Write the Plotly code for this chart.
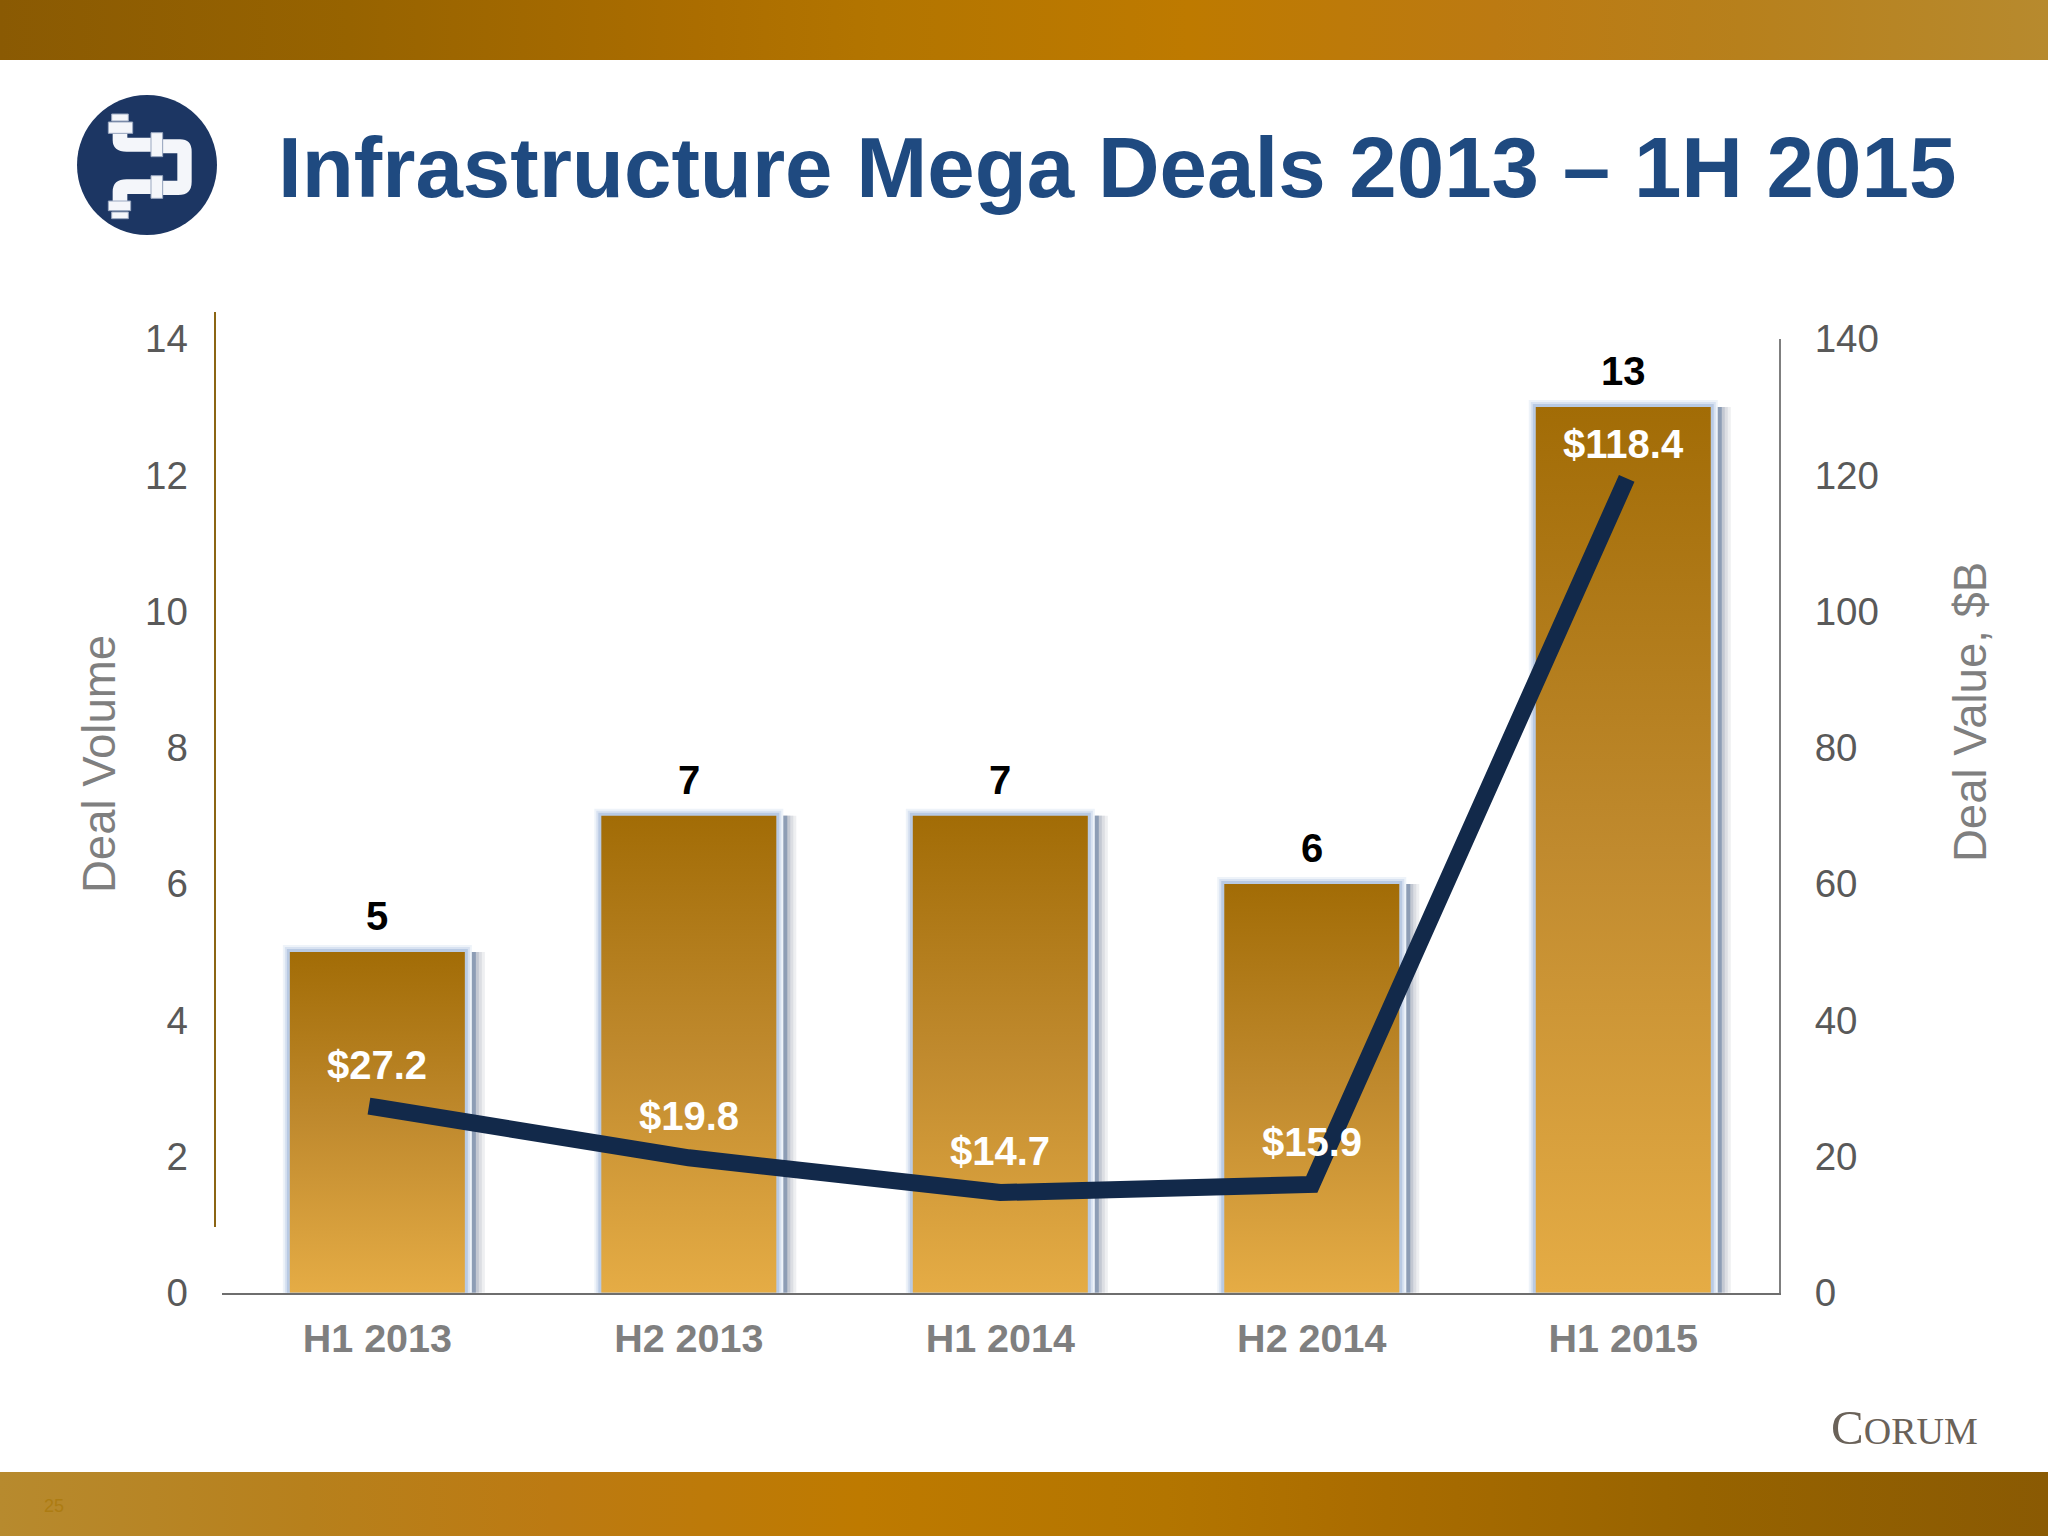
import plotly.graph_objects as go

categories = ["H1 2013", "H2 2013", "H1 2014", "H2 2014", "H1 2015"]
deal_volume = [5, 7, 7, 6, 13]
deal_value = [27.2, 19.8, 14.7, 15.9, 118.4]
value_labels = ["$27.2", "$19.8", "$14.7", "$15.9", "$118.4"]
left_ticks = [0, 2, 4, 6, 8, 10, 12, 14]
right_ticks = [0, 20, 40, 60, 80, 100, 120, 140]

W, H = 2048, 1536
X0, X1, YT, YB = 221.6, 1779.0, 339.0, 1292.7
UNIT = (X1 - X0) / 5
BAR = 175 / UNIT
px = 1 / UNIT
xs = list(range(len(categories)))
FONT = "Liberation Sans"

fig = go.Figure()

# ---- page bands on a full-page hidden subplot
def band(y0, y1, stops):
    fig.add_trace(go.Scatter(x=[0, W, W, 0, 0], y=[y0, y0, y1, y1, y0], xaxis="x3", yaxis="y3",
                             mode="none", fill="toself", hoverinfo="skip", showlegend=False,
                             fillgradient=dict(type="horizontal", colorscale=stops)))

top_stops = [[0, "#8a5a03"], [0.17, "#976300"], [0.34, "#ab6d00"], [0.43, "#b37500"], [0.58, "#be7a00"],
             [0.73, "#bc7a12"], [0.85, "#b7801c"], [1, "#b78a2e"]]
band(0, 60, top_stops)
band(1472, 1536, [[round(1 - s, 3), c] for s, c in reversed(top_stops)])

# ---- soft edges of the bars: fading layers, then the gradient fill on top
for extra, colour in [(18, "#eeeff1"), (15, "#dcdee3"), (12, "#c3c8d2"), (9, "#8d9db5")]:
    fig.add_trace(go.Bar(x=xs, y=deal_volume, width=BAR + extra * px, offset=-BAR / 2 + 2 * px,
                         marker=dict(color=colour, line_width=0), hoverinfo="skip", showlegend=False))
for lw, colour in [(14, "#eef3f9"), (10, "#d8e2f1"), (6, "#b9cae3")]:
    fig.add_trace(go.Bar(x=xs, y=deal_volume, width=BAR, offset=-BAR / 2,
                         marker=dict(color="rgba(0,0,0,0)", line=dict(color=colour, width=lw)),
                         hoverinfo="skip", showlegend=False))
for i, v in zip(xs, deal_volume):
    fig.add_trace(go.Scatter(x=[i - BAR / 2, i + BAR / 2, i + BAR / 2, i - BAR / 2, i - BAR / 2],
                             y=[0, 0, v, v, 0], mode="none", fill="toself",
                             fillgradient=dict(type="vertical",
                                               colorscale=[[0, "#e5ac45"], [0.5, "#c08a2e"], [1, "#a26c06"]]),
                             hoverinfo="skip", showlegend=False))

# ---- line
fig.add_trace(go.Scatter(x=xs, y=deal_value, yaxis="y2", mode="lines",
                         line=dict(color="#12294a", width=17), hoverinfo="skip", showlegend=False))

ann = []
for i, v in zip(xs, deal_volume):
    ann.append(dict(x=i, y=v, xref="x", yref="y", text=f"<b>{v}</b>", showarrow=False, yanchor="bottom",
                    yshift=12, font=dict(family=FONT, size=40, color="#000000")))
for i, v, t in zip(xs, deal_value, value_labels):
    ann.append(dict(x=i, y=v, xref="x", yref="y2", text=f"<b>{t}</b>", showarrow=False, yanchor="middle",
                    yshift=42, font=dict(family=FONT, size=40, color="#ffffff")))


def page_text(x, y, text, size, color, xanchor="center", angle=0, family=FONT):
    ann.append(dict(x=x, y=y, xref="x3", yref="y3", text=text, showarrow=False, xanchor=xanchor,
                    yanchor="middle", textangle=angle, font=dict(family=family, size=size, color=color)))


page_text(276, 167, "<b>Infrastructure Mega Deals 2013 – 1H 2015</b>", 85.3, "#1f4a80", "left")
page_text(99, 764, "Deal Volume", 45.5, "#7f7f7f", angle=-90)
page_text(1970, 712, "Deal Value, $B", 45.5, "#7f7f7f", angle=-90)
page_text(1829, 1427, 'C<span style="font-size:38px">ORUM</span>', 49, "#6a6259", "left", family="Liberation Serif")
page_text(54, 1506, "25", 18, "#ad7c12")

# ---- logo and left rule, in page pixels
def logo(X, Y):
    return 90 + X / 3, 110 + Y / 3


def logo_path(points):
    out = []
    for cmd, *vals in points:
        coords = []
        for a, b in zip(vals[0::2], vals[1::2]):
            x, y = logo(a, b)
            coords.append(f"{x:.2f},{y:.2f}")
        out.append(cmd + " ".join(coords))
    return " ".join(out) + " Z"


shapes = [dict(type="line", xref="x3", yref="y3", x0=215, x1=215, y0=312, y1=1227,
               line=dict(color="#8b6514", width=2)),
          dict(type="circle", xref="x3", yref="y3", x0=77, x1=217, y0=95, y1=235,
               fillcolor="#1c3663", line_width=0)]
pipes = [
    [("M", 68, 70), ("L", 112, 70), ("L", 112, 83), ("L", 185, 83), ("L", 185, 125), ("L", 110, 125),
     ("Q", 68, 125, 68, 90)],
    [("M", 218, 88), ("L", 270, 88), ("Q", 305, 88, 305, 125), ("L", 305, 215), ("Q", 305, 255, 265, 255),
     ("L", 218, 255), ("L", 218, 212), ("L", 262, 212), ("L", 262, 130), ("L", 218, 130)],
    [("M", 185, 208), ("L", 110, 208), ("Q", 68, 208, 68, 245), ("L", 68, 275), ("L", 112, 275),
     ("L", 112, 252), ("L", 185, 252)],
]
for p in pipes:
    shapes.append(dict(type="path", xref="x3", yref="y3", path=logo_path(p), fillcolor="#f4f6fa", line_width=0))
for a0, b0, a1, b1 in [(65, 12, 115, 33), (55, 36, 128, 70), (183, 68, 218, 140), (183, 197, 218, 265),
                       (55, 273, 122, 302), (65, 306, 115, 326)]:
    x0, y0 = logo(a0, b0)
    x1, y1 = logo(a1, b1)
    shapes.append(dict(type="rect", xref="x3", yref="y3", x0=x0, x1=x1, y0=y0, y1=y1,
                       fillcolor="#f4f6fa", line=dict(color="#9aa8c0", width=1)))

fig.update_layout(
    width=W, height=H, margin=dict(l=0, r=0, t=0, b=0, pad=0, autoexpand=False),
    paper_bgcolor="#ffffff", plot_bgcolor="rgba(0,0,0,0)",
    barmode="overlay", showlegend=False, annotations=ann, shapes=shapes,
    xaxis=dict(domain=[X0 / W, X1 / W], range=[-0.5, 4.5], tickvals=xs, ticktext=[f"<b>{c}</b>" for c in categories],
               tickfont=dict(family=FONT, size=39.5, color="#7f7f7f"), showgrid=False, zeroline=False,
               showline=True, linecolor="#6e6e6e", linewidth=2, ticks="outside", ticklen=10,
               tickcolor="rgba(0,0,0,0)", automargin=False),
    yaxis=dict(domain=[(H - YB) / H, (H - YT) / H], range=[0, 14], tickvals=left_ticks,
               tickfont=dict(family=FONT, size=38.5, color="#595959"), showgrid=False, zeroline=False,
               showline=False, ticks="outside", ticklen=25, tickcolor="rgba(0,0,0,0)", automargin=False),
    yaxis2=dict(domain=[(H - YB) / H, (H - YT) / H], range=[0, 140], tickvals=right_ticks, overlaying="y", side="right",
                tickfont=dict(family=FONT, size=38.5, color="#595959"), showgrid=False, zeroline=False,
                showline=True, linecolor="#7f7f7f", linewidth=2, ticks="outside", ticklen=26,
                tickcolor="rgba(0,0,0,0)", automargin=False),
    xaxis3=dict(domain=[0, 1], range=[0, W], visible=False, anchor="y3", fixedrange=True),
    yaxis3=dict(domain=[0, 1], range=[H, 0], visible=False, anchor="x3", fixedrange=True),
)

post = """
document.body.style.margin='0';
document.querySelectorAll('.scatterlayer .js-line').forEach(function(p){
  p.style.strokeLinecap='square'; p.style.strokeLinejoin='miter'; p.style.strokeMiterlimit='6';
});
"""
fig.write_html("out.html", post_script=post, config=dict(displayModeBar=False))
